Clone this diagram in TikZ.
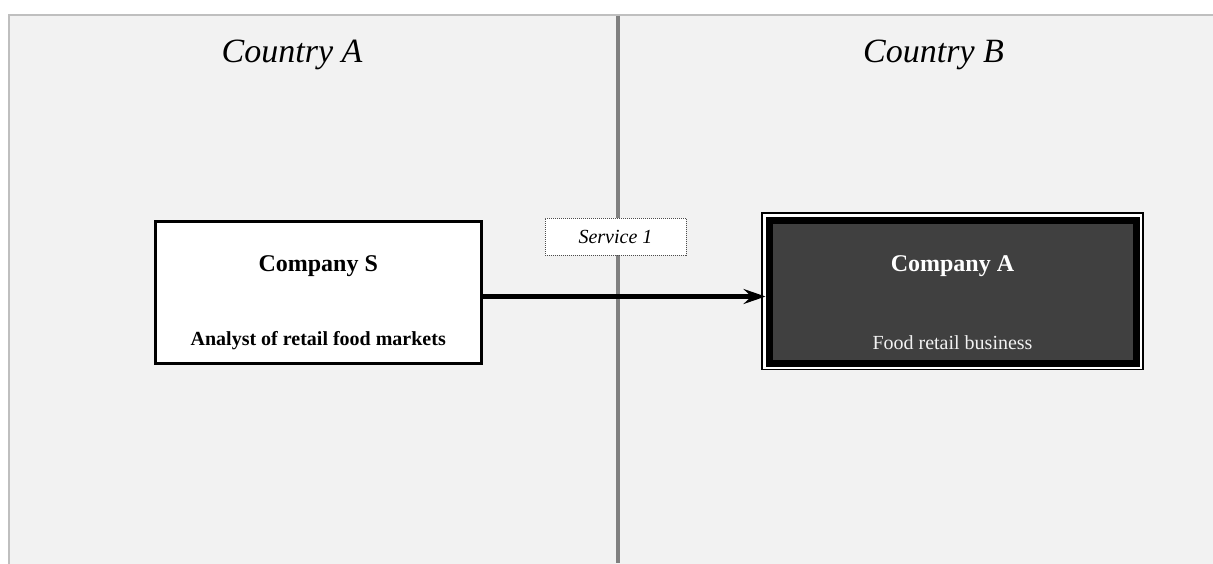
\documentclass[tikz,border=0pt]{standalone}
\usepackage{fontspec}
\setmainfont{Liberation Serif}
\usetikzlibrary{arrows.meta,calc}
\definecolor{bgfill}{HTML}{F2F2F2}
\definecolor{bgline}{HTML}{BFBFBF}
\definecolor{divider}{HTML}{808080}
\definecolor{darkbox}{HTML}{404040}
\definecolor{lighttext}{HTML}{F2F2F2}
\begin{document}
\begin{tikzpicture}[x=1pt,y=-1pt,
  countrylabel/.style={anchor=base,inner sep=0pt,font=\fontsize{34}{40}\selectfont\itshape},
  titletext/.style={anchor=base,inner sep=0pt,font=\fontsize{24}{28}\selectfont\bfseries},
  roletext/.style={anchor=base,inner sep=0pt,font=\fontsize{20}{24}\selectfont},
  whitebox/.style={draw=black,line width=3pt,fill=white,minimum width=325.5pt,minimum height=142pt,inner sep=0pt},
  darkframe/.style={draw=black,line width=1.2pt,fill=white,minimum width=381pt,minimum height=156.5pt,inner sep=0pt},
  darkboxstyle/.style={draw=black,line width=7pt,fill=darkbox,minimum width=367pt,minimum height=143pt,inner sep=0pt},
  servicelabel/.style={draw=black!70,dash pattern=on 1pt off 1pt,line width=0.6pt,fill=white,minimum width=141pt,minimum height=37pt,inner sep=0pt,font=\fontsize{20}{24}\selectfont\itshape},
  flowarrow/.style={line width=4.5pt,-{Stealth[length=22pt,width=15pt,inset=8pt]}}
]
\useasboundingbox (0,0) rectangle (1213,563);
% panel background
\draw[fill=bgfill,draw=bgline,line width=2pt] (9,14.5) rectangle (1240,590);
% border between countries
\draw[divider,line width=4pt] (618,15.5) -- (618,563);
% country titles
\node[countrylabel] (cA) at (292,62) {Country A};
\node[countrylabel] (cB) at (933.5,62) {Country B};
% Company S
\node[whitebox] (compS) at (318.25,292.5) {};
\node[titletext] (compSname) at (318.25,271) {Company S};
\node[roletext,font=\fontsize{20}{24}\selectfont\bfseries] (compSrole) at (318.25,345) {Analyst of retail food markets};
% Company A
\node[darkframe] (compAframe) at (952.5,291.25) {};
\node[darkboxstyle] (compA) at (952.5,291.5) {};
\node[titletext,text=white] (compAname) at (952.5,271) {Company A};
\node[roletext,text=lighttext] (compArole) at (952.5,349) {Food retail business};
% flow
\draw[flowarrow] ([yshift=-4pt]compS.east) -- ([yshift=-4pt]compS.east -| compA.west);
\node[servicelabel] (svc) at (615.5,236.5) {Service 1};
\end{tikzpicture}
\end{document}
